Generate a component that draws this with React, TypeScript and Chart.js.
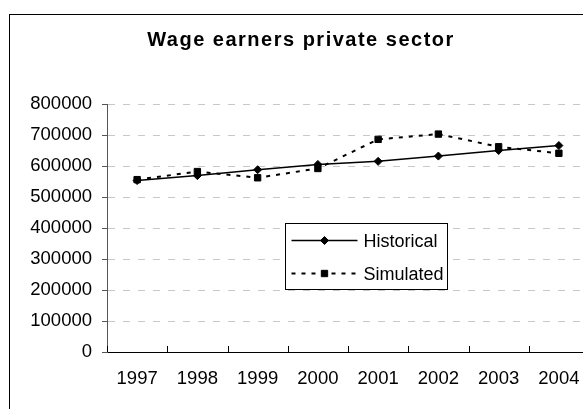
import React, { useEffect, useRef } from 'react';
import { Chart, registerables } from 'chart.js';

Chart.register(...registerables);

const TITLE = 'Wage earners private sector';
const YEARS = ['1997', '1998', '1999', '2000', '2001', '2002', '2003', '2004'];
const HISTORICAL = [553000, 569000, 588000, 605000, 615000, 632000, 650000, 666000];
const SIMULATED = [556000, 582000, 562000, 592000, 686000, 703000, 662000, 641000];
const Y_TICKS = [0, 100000, 200000, 300000, 400000, 500000, 600000, 700000, 800000];
const SERIES_NAMES = ['Historical', 'Simulated'];

const FONT = '"Liberation Sans", Arial, sans-serif';
const CANVAS_W = 600;
const CANVAS_H = 409;

function drawMarker(ctx: CanvasRenderingContext2D, style: string, x: number, y: number, r: number) {
  ctx.beginPath();
  if (style === 'rectRot') {
    ctx.moveTo(x - r, y);
    ctx.lineTo(x, y - r);
    ctx.lineTo(x + r, y);
    ctx.lineTo(x, y + r);
    ctx.closePath();
  } else {
    const s = r * Math.SQRT1_2;
    ctx.rect(x - s, y - s, 2 * s, 2 * s);
  }
  ctx.fill();
  ctx.stroke();
}

const framePlugin = {
  id: 'frame',
  beforeDraw(chart: any) {
    const { ctx, width, height } = chart;
    ctx.save();
    ctx.fillStyle = '#fff';
    ctx.fillRect(0, 0, width, height);
    ctx.strokeStyle = '#000';
    ctx.lineWidth = 1;
    ctx.strokeRect(9.5, 14.5, width + 40, height + 40);
    ctx.restore();
  },
};

const titlePlugin = {
  id: 'excelTitle',
  afterDraw(chart: any) {
    const ctx = chart.ctx as any;
    ctx.save();
    ctx.font = `bold 20px ${FONT}`;
    ctx.letterSpacing = '1.5px';
    ctx.fillStyle = '#000';
    ctx.textAlign = 'center';
    ctx.textBaseline = 'alphabetic';
    ctx.fillText(TITLE, chart.width / 2 + 1, 46);
    ctx.restore();
  },
};

const xTickPlugin = {
  id: 'xTicks',
  afterDatasetsDraw(chart: any) {
    const xs = chart.scales.x;
    const ctx = chart.ctx;
    const n = YEARS.length;
    const step = (xs.right - xs.left) / n;
    ctx.save();
    ctx.strokeStyle = '#000';
    ctx.lineWidth = 1;
    ctx.beginPath();
    for (let i = 0; i <= n; i++) {
      const x = Math.round(xs.left + i * step) + 0.5;
      ctx.moveTo(x, xs.top);
      ctx.lineTo(x, xs.top - 6);
    }
    ctx.stroke();
    ctx.restore();
  },
};

const legendPlugin = {
  id: 'excelLegend',
  afterDraw(chart: any) {
    const ctx = chart.ctx;
    const bx = 285.5, by = 223.5, bw = 162, bh = 66;
    ctx.save();
    ctx.fillStyle = '#fff';
    ctx.fillRect(bx, by, bw, bh);
    ctx.strokeStyle = '#000';
    ctx.lineWidth = 1;
    ctx.strokeRect(bx, by, bw, bh);
    const rows = [by + 17, by + 50];
    chart.data.datasets.forEach((ds: any, i: number) => {
      const y = rows[i];
      ctx.save();
      ctx.strokeStyle = ds.borderColor;
      ctx.lineWidth = ds.borderWidth;
      ctx.setLineDash(ds.borderDash || []);
      ctx.beginPath();
      ctx.moveTo(bx + 6, y);
      ctx.lineTo(bx + 72, y);
      ctx.stroke();
      ctx.setLineDash([]);
      ctx.fillStyle = ds.pointBackgroundColor;
      ctx.strokeStyle = ds.pointBorderColor;
      ctx.lineWidth = ds.pointBorderWidth;
      drawMarker(ctx, ds.pointStyle, bx + 39, y, ds.pointRadius);
      ctx.restore();
      ctx.fillStyle = '#000';
      ctx.font = `18px ${FONT}`;
      ctx.textAlign = 'left';
      ctx.textBaseline = 'alphabetic';
      ctx.fillText(ds.label, bx + 78, y + 6.5);
    });
    ctx.restore();
  },
};

export default function App() {
  const ref = useRef<HTMLCanvasElement | null>(null);

  useEffect(() => {
    if (!ref.current) return;
    const chart = new Chart(ref.current, {
      type: 'line',
      data: {
        labels: YEARS,
        datasets: [
          {
            label: SERIES_NAMES[0],
            data: HISTORICAL,
            borderColor: '#000',
            borderWidth: 1.5,
            tension: 0,
            fill: false,
            pointStyle: 'rectRot',
            pointRadius: 4,
            pointBorderWidth: 1,
            pointBackgroundColor: '#000',
            pointBorderColor: '#000',
          },
          {
            label: SERIES_NAMES[1],
            data: SIMULATED,
            borderColor: '#000',
            borderWidth: 2,
            borderDash: [4, 6],
            tension: 0,
            fill: false,
            pointStyle: 'rect',
            pointRadius: 4.5,
            pointBorderWidth: 1,
            pointBackgroundColor: '#000',
            pointBorderColor: '#000',
          },
        ],
      } as any,
      options: {
        responsive: false,
        animation: false,
        devicePixelRatio: 1,
        layout: { padding: { left: 20, right: 11, top: 104, bottom: 0 } },
        plugins: {
          legend: { display: false },
          title: { display: false },
          tooltip: { enabled: false },
        },
        scales: {
          x: {
            type: 'category',
            offset: true,
            afterFit: (s: any) => {
              s.height = 57;
            },
            ticks: {
              color: '#000',
              font: { family: FONT, size: 18.5 },
              padding: 16,
              maxRotation: 0,
              autoSkip: false,
            },
            grid: { display: false, drawTicks: false, drawOnChartArea: false },
            border: { display: true, color: '#000', width: 1 },
          },
          y: {
            min: 0,
            max: 800000,
            afterBuildTicks: (s: any) => {
              s.ticks = Y_TICKS.map((v) => ({ value: v }));
            },
            afterFit: (s: any) => {
              s.width = 87;
            },
            ticks: {
              color: '#000',
              font: { family: FONT, size: 18.5 },
              padding: 10,
              callback: (v: any) => String(v),
            },
            grid: {
              color: '#c8c8c8',
              lineWidth: 1,
              drawTicks: true,
              tickLength: 5,
              tickColor: '#555',
              tickWidth: 1,
            },
            border: { display: true, color: '#555', width: 1, dash: [7, 8] },
          },
        },
      } as any,
      plugins: [framePlugin, xTickPlugin, legendPlugin, titlePlugin],
    });
    return () => chart.destroy();
  }, []);

  return (
    <div
      style={{
        position: 'fixed',
        left: 0,
        top: 0,
        width: 583,
        height: 409,
        overflow: 'hidden',
        background: '#fff',
      }}
    >
      <canvas
        ref={ref}
        width={CANVAS_W}
        height={CANVAS_H}
        style={{ display: 'block', width: CANVAS_W, height: CANVAS_H }}
      />
    </div>
  );
}
